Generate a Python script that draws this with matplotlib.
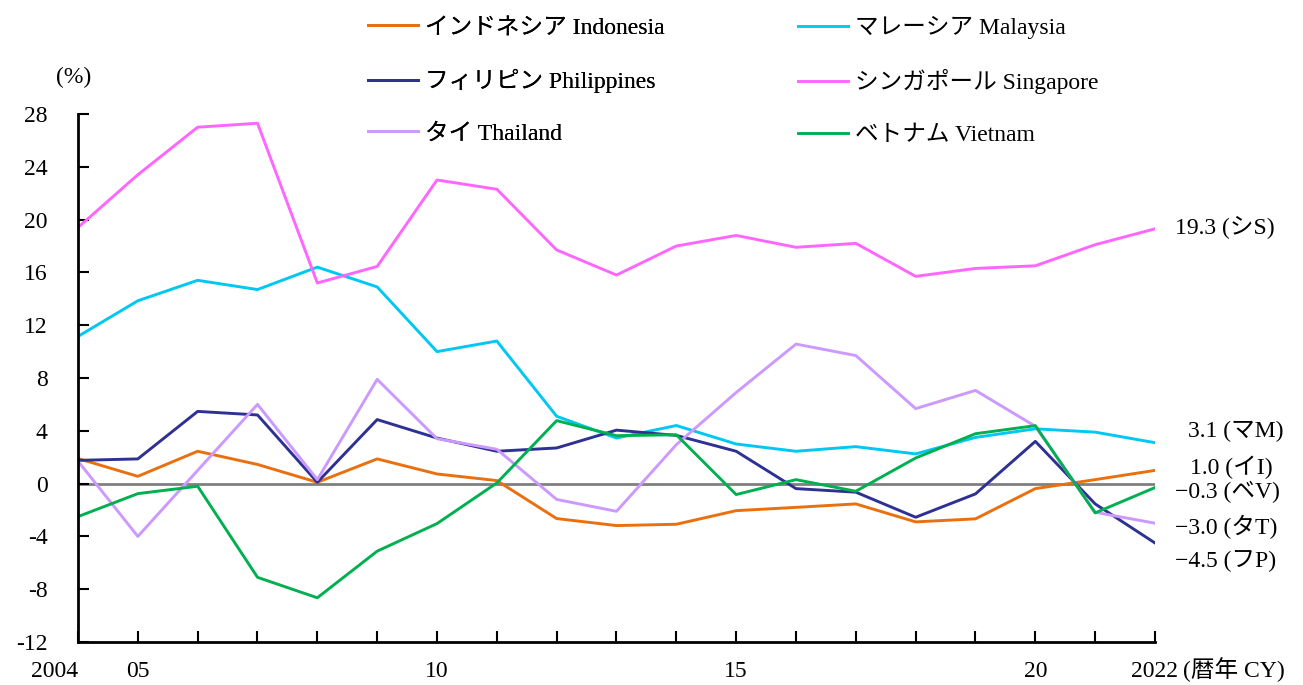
import matplotlib
matplotlib.use('Agg')
import matplotlib.pyplot as plt

plt.rcParams['font.family'] = ['Liberation Serif', 'Noto Sans CJK JP', 'DejaVu Sans']
plt.rcParams['axes.unicode_minus'] = False

years = list(range(2004, 2023))

indonesia = [1.9, 0.55, 2.45, 1.45, 0.1, 1.87, 0.73, 0.23, -2.65, -3.18, -3.08, -2.05,
             -1.8, -1.54, -2.9, -2.67, -0.38, 0.3, 1.0]
malaysia = [11.15, 13.85, 15.4, 14.7, 16.4, 14.9, 10.0, 10.8, 5.1, 3.45, 4.4, 3.0,
            2.45, 2.8, 2.25, 3.5, 4.15, 3.9, 3.1]
philippines = [1.76, 1.87, 5.47, 5.2, 0.1, 4.85, 3.45, 2.45, 2.7, 4.05, 3.65, 2.45,
               -0.38, -0.65, -2.55, -0.78, 3.2, -1.54, -4.5]
singapore = [19.4, 23.4, 27.0, 27.3, 15.2, 16.45, 23.0, 22.3, 17.7, 15.8, 18.0, 18.8,
             17.9, 18.2, 15.7, 16.3, 16.5, 18.1, 19.3]
thailand = [1.7, -4.0, 1.0, 6.0, 0.3, 7.9, 3.4, 2.6, -1.2, -2.1, 2.95, 6.9,
            10.57, 9.7, 5.68, 7.06, 4.34, -2.17, -3.0]
vietnam = [-2.5, -0.76, -0.2, -7.1, -8.65, -5.12, -3.03, 0.05, 4.77, 3.63, 3.7, -0.83,
           0.3, -0.58, 1.94, 3.78, 4.39, -2.22, -0.3]

names = ['インドネシア Indonesia', 'マレーシア Malaysia', 'フィリピン Philippines',
         'シンガポール Singapore', 'タイ Thailand', 'ベトナム Vietnam']
colors = ['#EA700F', '#00C8F2', '#2E3192', '#FF66FF', '#CC99FF', '#00B050']
series = [indonesia, malaysia, philippines, singapore, thailand, vietnam]

end_labels = ['1.0 (イI)', '3.1 (マM)', '−4.5 (フP)', '19.3 (シS)', '−3.0 (タT)', '−0.3 (ベV)']
end_label_y = [1.2, 3.94, -5.9, 19.4, -3.25, -0.6]
end_label_x = [2022.58, 2022.55, 2022.33, 2022.33, 2022.33, 2022.33]

FS = 17

fig = plt.figure(figsize=(13.03, 6.85), dpi=100)
ax = fig.add_axes([78 / 1303, 43 / 685, 1077 / 1303, 528 / 685])

ax.plot([2004, 2022], [0, 0], color='#808080', lw=2, zorder=1)

lines = []
for vals, c, n in zip(series, colors, names):
    ln, = ax.plot(years, vals, color=c, lw=2.1, label=n, zorder=2)
    lines.append(ln)

for txt, x, y in zip(end_labels, end_label_x, end_label_y):
    ax.text(x, y, txt, fontsize=FS, va='center', ha='left', clip_on=False)

ax.set_xlim(2004, 2022)
ax.set_ylim(-12, 28)
ax.set_yticks(range(-12, 29, 4))
ax.set_xticks(years)
xlabels = ['2004', '05', '', '', '', '', '10', '', '', '', '', '15', '', '', '', '', '20', '', '2022']
ax.set_xticklabels(xlabels)
ax.get_xticklabels()[0].set_horizontalalignment('right')

for s in ['top', 'right']:
    ax.spines[s].set_visible(False)
for s in ['left', 'bottom']:
    ax.spines[s].set_linewidth(2)
ax.tick_params(axis='both', direction='in', length=8, width=1.5, labelsize=FS)
ax.tick_params(axis='y', pad=22)
ax.tick_params(axis='x', pad=14)

fig.text(56 / 1303, 1 - 77 / 685, '(%)', fontsize=FS, va='center', ha='left')
fig.text(1183 / 1303, 1 - 670 / 685, '(暦年 CY)', fontsize=FS, va='center', ha='left')

leg_kw = dict(loc='upper left', frameon=False, fontsize=FS, handlelength=2.1,
              handletextpad=0.3, labelspacing=1.28, borderpad=0, borderaxespad=0)
leg1 = fig.legend(lines[0::2], names[0::2], bbox_to_anchor=(368 / 1303, 1 - 17 / 685), **leg_kw)
leg2 = fig.legend(lines[1::2], names[1::2], bbox_to_anchor=(798 / 1303, 1 - 16 / 685), **leg_kw)
fig.add_artist(leg1)

fig.savefig('out.png', dpi=100)
